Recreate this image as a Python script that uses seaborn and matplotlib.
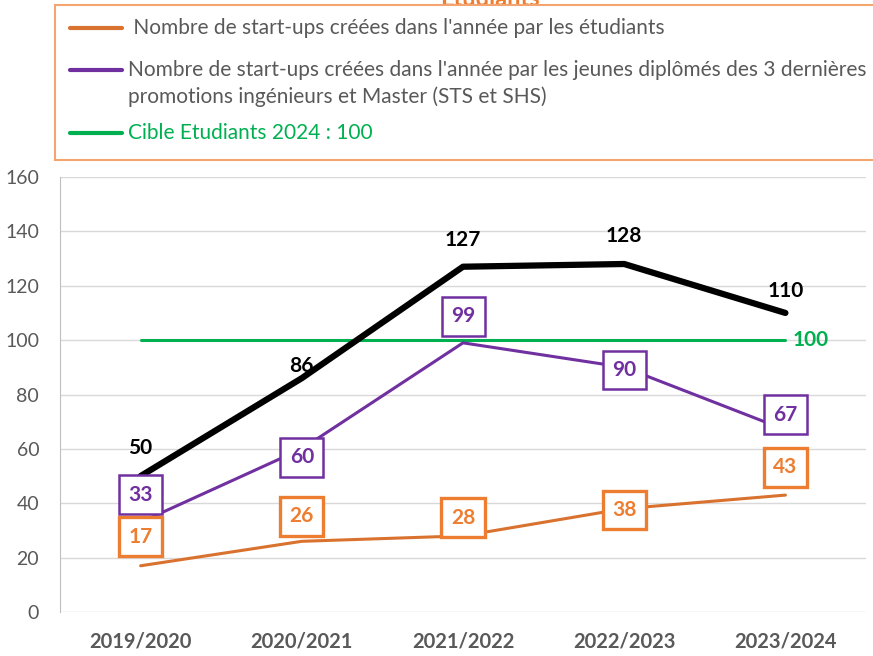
import matplotlib
matplotlib.use("Agg")
import matplotlib.pyplot as plt
from matplotlib.lines import Line2D
from matplotlib.patches import Rectangle
import pandas as pd
import seaborn as sns

# données
annees = ["2019/2020", "2020/2021", "2021/2022", "2022/2023", "2023/2024"]
etudiants = [17, 26, 28, 38, 43]
jeunes_diplomes = [33, 60, 99, 90, 67]
total = [50, 86, 127, 128, 110]
cible = [100, 100, 100, 100, 100]

# décalages des étiquettes (en points)
off_tot = [20, 9, 19, 20, 16]
off_etu = [21, 18, 13, -1, 20]
off_dip = [20, -6, 19, -2, 11]

ORANGE = "#ED7D31"
ORANGE_LINE = "#D9722E"
VIOLET = "#7030A0"
VERT = "#00B050"
GRIS = "#595959"

sns.set_style("white")
plt.rcParams["font.family"] = ["Lato", "DejaVu Sans"]

df = pd.DataFrame({"annee": annees, "etu": etudiants, "dip": jeunes_diplomes,
                   "total": total, "cible": cible})
df["x"] = range(len(df))

W, H = 873, 656
fig = plt.figure(figsize=(8.73, 6.56), dpi=100)
ax = fig.add_axes([60 / W, 1 - 612 / H, 806 / W, 435 / H])

sns.lineplot(data=df, x="x", y="cible", ax=ax, color=VERT, linewidth=2.2, zorder=2)
sns.lineplot(data=df, x="x", y="etu", ax=ax, color=ORANGE_LINE, linewidth=2.2, zorder=3)
sns.lineplot(data=df, x="x", y="dip", ax=ax, color=VIOLET, linewidth=2.2, zorder=3)
sns.lineplot(data=df, x="x", y="total", ax=ax, color="black", linewidth=4.5, zorder=4)

ax.set_xlim(-0.5, len(df) - 0.5)
ax.set_ylim(0, 160)
ax.set_yticks(range(0, 161, 20))
ax.set_xticks(df["x"])
ax.set_xticklabels(df["annee"], fontweight="bold", fontsize=14.5)
ax.set_xlabel("")
ax.set_ylabel("")
ax.yaxis.grid(True, color="#D9D9D9", linewidth=1)
ax.set_axisbelow(True)
ax.tick_params(axis="both", colors=GRIS, length=0)
ax.tick_params(axis="y", labelsize=14, pad=15)
ax.tick_params(axis="x", pad=14)
for s in ["top", "right", "bottom"]:
    ax.spines[s].set_visible(False)
ax.spines["left"].set_color("#BFBFBF")

# étiquettes
for i, r in df.iterrows():
    ax.annotate(str(r["total"]), (r["x"], r["total"]), xytext=(0, off_tot[i]),
                textcoords="offset points", ha="center", va="center",
                fontsize=15, fontweight="bold", color="black", zorder=6)
    ax.annotate(str(r["dip"]), (r["x"], r["dip"]), xytext=(0, off_dip[i]),
                textcoords="offset points", ha="center", va="center",
                fontsize=15, fontweight="bold", color=VIOLET, zorder=6,
                bbox=dict(boxstyle="square,pad=0.45", fc="white", ec=VIOLET, lw=1.8))
    ax.annotate(str(r["etu"]), (r["x"], r["etu"]), xytext=(0, off_etu[i]),
                textcoords="offset points", ha="center", va="center",
                fontsize=15, fontweight="bold", color=ORANGE, zorder=6,
                bbox=dict(boxstyle="square,pad=0.45", fc="white", ec=ORANGE, lw=2.4))
ax.annotate(str(cible[-1]), (df["x"].iloc[-1], cible[-1]), xytext=(5, 0),
            textcoords="offset points", ha="left", va="center",
            fontsize=15, fontweight="bold", color=VERT)

# titre coupé + cadre de légende
fig.text(490 / W, 1.0 + 2 / H, "Etudiants", ha="center", va="center",
         fontsize=17, fontweight="bold", color=ORANGE)
fig.add_artist(Rectangle((55 / W, 1 - 160 / H), 830 / W, 155 / H,
                         transform=fig.transFigure, fc="white", ec="#F4A46E",
                         lw=1.5, zorder=5))

# légende dessinée à la main (la 2e entrée a sa ligne sur la 1re ligne de texte)
legende = [(ORANGE_LINE, GRIS, " Nombre de start-ups créées dans l'année par les étudiants", 28),
           (VIOLET, GRIS, "Nombre de start-ups créées dans l'année par les jeunes diplômés des 3 dernières", 70),
           (None, GRIS, "promotions ingénieurs et Master (STS et SHS)", 97),
           (VERT, VERT, "Cible Etudiants 2024 : 100", 133)]
for lc, tc, txt, y in legende:
    if lc:
        fig.add_artist(Line2D([70 / W, 122 / W], [1 - y / H, 1 - y / H],
                              transform=fig.transFigure, color=lc, lw=3, zorder=6))
    fig.text(128 / W, 1 - y / H, txt, ha="left", va="center", fontsize=15,
             color=tc, zorder=6)

fig.savefig("out.png", dpi=100)
